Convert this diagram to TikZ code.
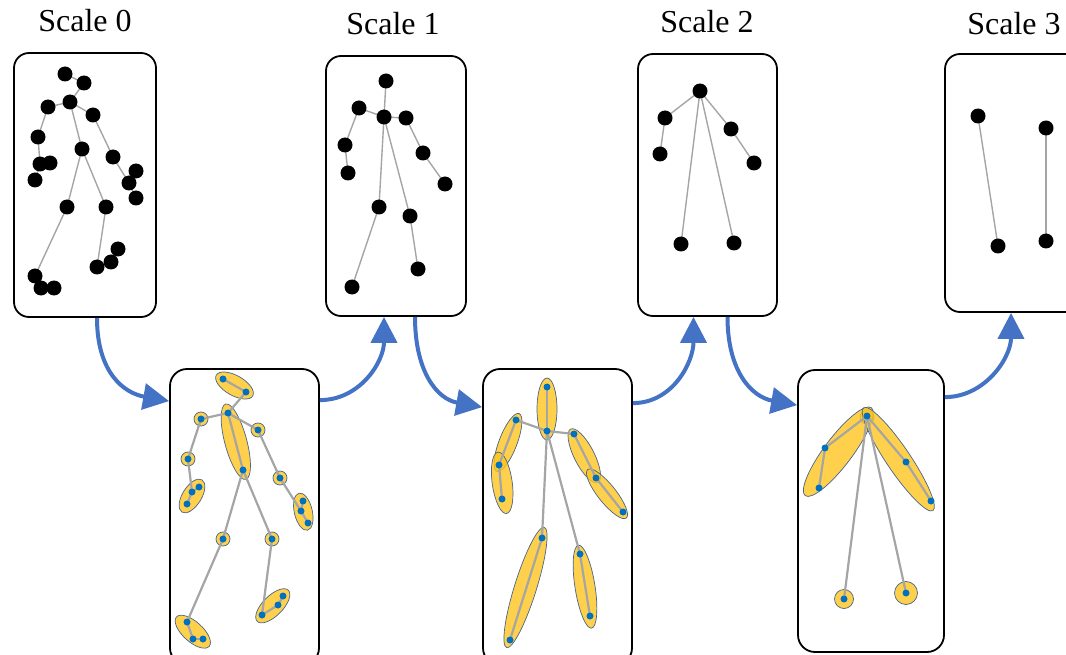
\documentclass[tikz,border=0pt]{standalone}
\usepackage{fontspec}
\setmainfont{Liberation Serif}
\usetikzlibrary{arrows.meta}
\definecolor{arrowblue}{RGB}{68,114,196}
\definecolor{jointblue}{RGB}{0,112,192}
\definecolor{blobfill}{RGB}{255,196,30}
\definecolor{blobline}{RGB}{70,100,140}
\definecolor{bonegray}{RGB}{165,165,165}
\pgfdeclarelayer{blobs}
\pgfdeclarelayer{bones}
\pgfsetlayers{blobs,bones,main}
\newcommand\blob[5]{\path[blob, rotate around={#3:(#1,#2)}] (#1,#2) ellipse [x radius=#4pt, y radius=#5pt];}
\newcommand\rblob[3]{\path[blob] (#1,#2) circle [radius=#3pt];}
\begin{document}
\begin{tikzpicture}[x=1pt,y=-1pt,
  box/.style={draw=black, line width=1.8pt, rounded corners=15pt, inner sep=0pt},
  lbl/.style={font=\fontsize{32}{37}\selectfont, inner sep=0pt, anchor=base},
  bdot/.style={circle, fill=black, inner sep=0pt, minimum size=15pt},
  jdot/.style={circle, fill=jointblue, inner sep=0pt, minimum size=7pt},
  bone/.style={draw=bonegray, line width=1.4pt},
  bonethick/.style={draw=bonegray, line width=2.2pt},
  blob/.style={fill=blobfill, fill opacity=0.8, draw=blobline, line width=0.7pt},
  flow/.style={draw=arrowblue, line width=4pt, -{Triangle[length=26pt,width=26pt]}},
]
\clip (0,0) rectangle (1066,655);

% labels
\node[lbl] (s0) at (85,32) {Scale 0};
\node[lbl] (s1) at (393,35) {Scale 1};
\node[lbl] (s2) at (707,33) {Scale 2};
\node[lbl] (s3) at (1014,35) {Scale 3};

% boxes
\node[box, minimum width=142pt, minimum height=264pt] (b0) at (85,185) {};
\node[box, minimum width=140pt, minimum height=260pt] (b1) at (396,186) {};
\node[box, minimum width=139pt, minimum height=262pt] (b2) at (707.5,185) {};
\node[box, minimum width=140pt, minimum height=258pt] (b3) at (1015,183) {};
\node[box, rounded corners=17pt, minimum width=149pt, minimum height=296pt] (bA) at (244.5,517) {};
\node[box, rounded corners=17pt, minimum width=149pt, minimum height=296pt] (bB) at (557.5,517) {};
\node[box, rounded corners=17pt, minimum width=146pt, minimum height=282pt] (bC) at (871,511) {};

% ---- top skeletons ----
\foreach \n/\x/\y in {1/65/74,2/84/83,3/70/102,4/48/107,5/93/115,6/38/137,7/82/149,8/113/157,9/50/163,10/40/164,11/35/180,12/136/171,13/129/183,14/136/198,15/67/207,16/106/207,17/118/249,18/111/262,19/97/267,20/35/276,21/41/288,22/54/288}
  \node[bdot] (t0-\n) at (\x,\y) {};
\foreach \n/\x/\y in {1/386/81,2/359/108,3/384/117,4/406/118,5/345/145,6/423/153,7/348/173,8/445/184,9/379/207,10/410/216,11/418/269,12/352/287}
  \node[bdot] (t1-\n) at (\x,\y) {};
\foreach \n/\x/\y in {1/700/91,2/665/118,3/731/129,4/660/154,5/754/163,6/681/244,7/734/243}
  \node[bdot] (t2-\n) at (\x,\y) {};
\foreach \n/\x/\y in {1/978/116,2/1046/128,3/998/246,4/1046/241}
  \node[bdot] (t3-\n) at (\x,\y) {};

\begin{pgfonlayer}{bones}
\foreach \i/\j in {1/2,2/3,3/4,3/5,4/6,6/10,10/9,10/11,5/8,8/13,13/12,13/14,3/7,7/15,15/20,20/21,21/22,7/16,16/19,19/18,18/17}
  \draw[bone] (t0-\i.center) -- (t0-\j.center);
\foreach \i/\j in {1/3,3/2,2/5,5/7,3/4,4/6,6/8,3/9,9/12,3/10,10/11}
  \draw[bone] (t1-\i.center) -- (t1-\j.center);
\foreach \i/\j in {1/2,2/4,1/3,3/5,1/6,1/7}
  \draw[bone] (t2-\i.center) -- (t2-\j.center);
\foreach \i/\j in {1/3,2/4}
  \draw[bone] (t3-\i.center) -- (t3-\j.center);
\end{pgfonlayer}

% ---- bottom skeletons ----
\foreach \n/\x/\y in {1/223/379,2/246/392,3/228/413,4/201/419,5/258/430,6/188/459,7/243/470,8/280/478,9/199/487,10/192/492,11/187/504,12/303/501,13/301/511,14/308/523,15/223/539,16/272/539,17/283/596,18/278/605,19/262/615,20/187/622,21/193/639,22/203/639}
  \node[jdot] (a-\n) at (\x,\y) {};
\foreach \n/\x/\y in {1/547/387,2/547/431,3/516/420,4/574/434,5/499/465,6/502/499,7/596/478,8/623/512,9/542/538,10/580/554,11/510/640,12/590/616}
  \node[jdot] (b-\n) at (\x,\y) {};
\foreach \n/\x/\y in {1/867/416,2/825/448,3/819/488,4/906/462,5/931/501,6/844/599,7/906/593}
  \node[jdot] (c-\n) at (\x,\y) {};

\begin{pgfonlayer}{bones}
\foreach \i/\j in {1/2,2/3,3/4,3/5,3/7,4/6,6/10,10/9,10/11,5/8,8/13,13/12,13/14,7/15,15/20,20/21,21/22,7/16,16/19,19/18,18/17}
  \draw[bonethick] (a-\i.center) -- (a-\j.center);
\foreach \i/\j in {1/2,2/3,3/5,5/6,2/4,4/7,7/8,2/9,9/11,2/10,10/12}
  \draw[bonethick] (b-\i.center) -- (b-\j.center);
\foreach \i/\j in {1/2,2/3,1/4,4/5,1/6,1/7}
  \draw[bonethick] (c-\i.center) -- (c-\j.center);
\end{pgfonlayer}

\begin{pgfonlayer}{blobs}
% box A
\blob{234.5}{385.5}{-29.5}{21}{10}
\blob{235.8}{441.7}{-75}{39}{11}
\rblob{201}{419}{7}
\rblob{258}{430}{7}
\rblob{188}{459}{7}
\rblob{280}{478}{7}
\rblob{223}{539}{7}
\rblob{272}{539}{7}
\blob{192}{496}{58}{19}{9.5}
\blob{303.3}{511.7}{-77}{19}{9}
\blob{192.8}{631.7}{-42}{22}{10}
\blob{272.8}{605.8}{45}{22}{10}
% box B
\blob{547}{409}{90}{31}{10}
\blob{508}{442.5}{69}{31}{9}
\blob{502.2}{482.8}{-82}{31}{10}
\blob{584.3}{455.8}{-63}{30}{10}
\blob{607}{493.8}{-51.5}{31}{9}
\blob{525.5}{587.5}{72.6}{63}{11}
\blob{585}{586.7}{-81}{42}{10}
% box C
\rblob{867}{417}{7}
\blob{838.3}{451.7}{53}{55}{14}
\blob{898.3}{459.2}{-56}{62}{12}
\rblob{844}{599}{9.5}
\rblob{906}{593}{11.5}
\end{pgfonlayer}

% ---- flow arrows ----
\draw[flow] ([xshift=12pt]b0.south) .. controls +(0,55) and +(-45,-8) .. ([yshift=-33pt]bA.north west);
\draw[flow] ([yshift=-32pt]bA.north east) .. controls +(40,0) and +(0,45) .. ([xshift=-12pt]b1.south);
\draw[flow] ([xshift=19pt]b1.south) .. controls +(0,55) and +(-45,-8) .. ([yshift=-39pt]bB.north west);
\draw[flow] ([yshift=-35pt]bB.north east) .. controls +(40,0) and +(0,45) .. ([xshift=-14pt]b2.south);
\draw[flow] ([xshift=20pt]b2.south) .. controls +(0,55) and +(-45,-8) .. ([yshift=-36pt]bC.north west);
\draw[flow] ([yshift=-28pt]bC.north east) .. controls +(40,0) and +(0,45) .. ([xshift=-4pt]b3.south);
\end{tikzpicture}
\end{document}
